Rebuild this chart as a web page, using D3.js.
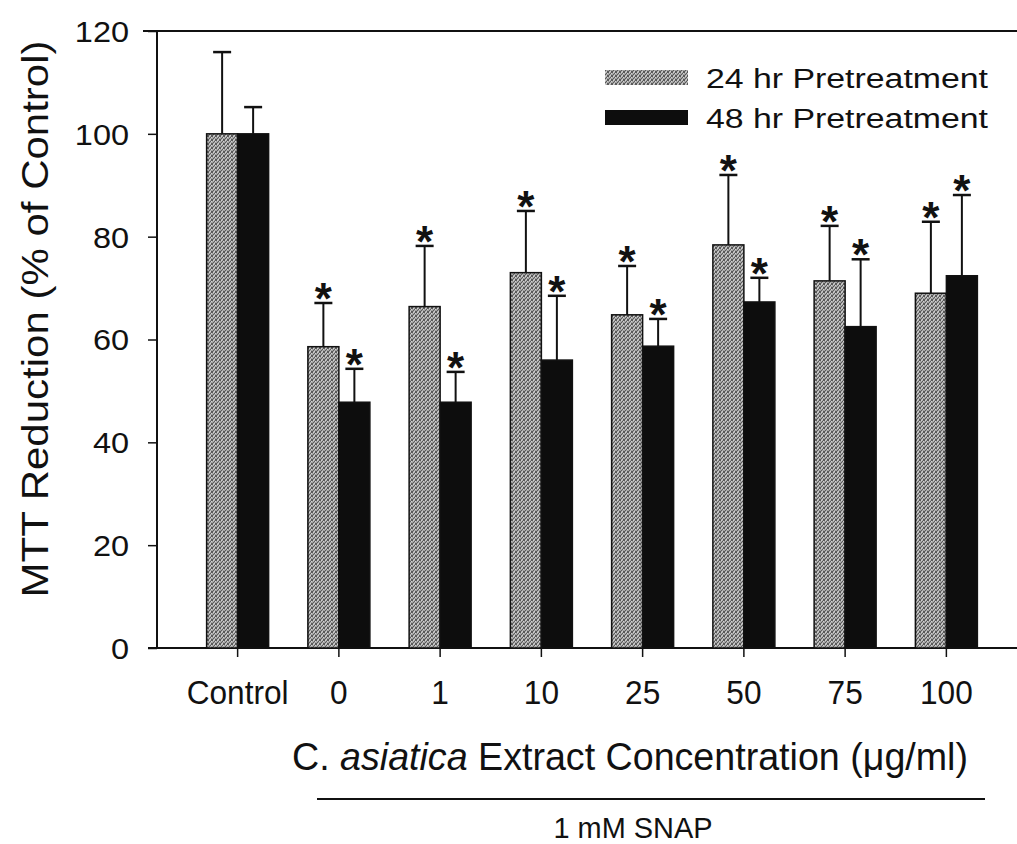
<!DOCTYPE html>
<html><head><meta charset="utf-8">
<script src="https://cdn.jsdelivr.net/npm/d3@7"></script>
<style>body{margin:0;background:#fff}svg{display:block}text{font-family:"Liberation Sans",Arial,sans-serif;fill:#111}</style>
</head><body><svg id="c" width="1017" height="844"></svg>
<script>
const categories = ["Control","0","1","10","25","50","75","100"];
const series = ["24 hr Pretreatment","48 hr Pretreatment"];
const values24 = [100, 58.6, 66.4, 73.0, 64.8, 78.4, 71.4, 69.0];
const values48 = [100, 47.8, 47.8, 56.0, 58.7, 67.3, 62.5, 72.4];
const err24 = [15.9, 8.5, 11.8, 12.0, 9.5, 13.6, 10.7, 13.9];
const err48 = [5.2, 6.5, 5.9, 12.5, 5.3, 4.7, 13.1, 15.7];
const sig24 = [false, true, true, true, true, true, true, true];
const sig48 = [false, true, true, true, true, true, true, true];
const yTicks = [0, 20, 40, 60, 80, 100, 120];

const svg = d3.select("#c");
const defs = svg.append("defs");
const pat = defs.append("pattern").attr("id","stip").attr("width",4).attr("height",4).attr("patternUnits","userSpaceOnUse");
pat.append("rect").attr("width",4).attr("height",4).attr("fill","#a6a6a6");
[[0,0],[2,1],[1,2],[3,3],[0,3],[3,0]].forEach(([a,b])=>pat.append("rect").attr("x",a).attr("y",b).attr("width",1).attr("height",1).attr("fill","#5a5a5a"));
[[1,0],[3,1],[2,3]].forEach(([a,b])=>pat.append("rect").attr("x",a).attr("y",b).attr("width",1).attr("height",1).attr("fill","#d0d0d0"));

const x0 = 157, y0 = 648;
const x = d3.scaleBand().domain(categories).range([187, 997]).paddingInner(0).paddingOuter(0);
const xs = d3.scaleBand().domain(series).range([0, 62]).padding(0);
const y = d3.scaleLinear().domain([0,120]).range([y0, 31]);

function fit(sel, w){ sel.attr("textLength", w).attr("lengthAdjust","spacingAndGlyphs"); }

// y axis
const ya = svg.append("g").attr("transform",`translate(${x0},0)`)
  .call(d3.axisLeft(y).tickValues(yTicks).tickSize(9).tickPadding(0).tickFormat(d3.format("d")));
ya.select(".domain").attr("stroke","#111").attr("stroke-width",2).attr("d",`M0,${y(120)}V${y0}`);
ya.selectAll(".tick line").attr("stroke","#111").attr("stroke-width",1.5);
ya.selectAll(".tick text").attr("x",-28).attr("dy","0.36em").attr("font-size",29).attr("fill","#111")
  .each(function(d){ const t=d3.select(this); fit(t, this.getComputedTextLength()*1.12); });
// top frame line
svg.append("line").attr("x1",143).attr("x2",1017).attr("y1",y(120)).attr("y2",y(120)).attr("stroke","#111").attr("stroke-width",2);

// x axis
const xa = svg.append("g").attr("transform",`translate(0,${y0})`)
  .call(d3.axisBottom(x).tickSize(9).tickPadding(0));
xa.select(".domain").attr("stroke","#111").attr("stroke-width",2).attr("d",`M148,0H1017`);
xa.selectAll(".tick line").attr("stroke","#111").attr("stroke-width",1.5);
xa.selectAll(".tick text").attr("y",56).attr("dy",0).attr("font-size",34).attr("fill","#111")
  .each(function(d){ const t=d3.select(this); fit(t, this.getComputedTextLength()*0.93); });

// bars
const g = svg.append("g");
categories.forEach((c,i)=>{
  const gx = x(c) + x.bandwidth()/2 - 31;
  const rows = [
    {s:series[0], v:values24[i], e:err24[i], sig:sig24[i], fill:"url(#stip)"},
    {s:series[1], v:values48[i], e:err48[i], sig:sig48[i], fill:"#0d0d0d"}];
  rows.forEach(r=>{
    const bx = gx + xs(r.s), bw = xs.bandwidth();
    const cx = bx + bw/2;
    g.append("line").attr("x1",cx).attr("x2",cx).attr("y1",y(r.v)).attr("y2",y(r.v+r.e)).attr("stroke","#111").attr("stroke-width",2);
    g.append("line").attr("x1",cx-9).attr("x2",cx+9).attr("y1",y(r.v+r.e)).attr("y2",y(r.v+r.e)).attr("stroke","#111").attr("stroke-width",2.5);
    g.append("rect").attr("x",bx).attr("y",y(r.v)).attr("width",bw).attr("height",y0-y(r.v))
      .attr("fill",r.fill).attr("stroke","#111").attr("stroke-width",1.5);
    if(r.sig){
      g.append("text").attr("x",cx).attr("y",y(r.v+r.e)-14+25).attr("text-anchor","middle")
        .attr("font-size",44).attr("font-weight","bold").text("*");
    }
  });
});

// legend
const lg = svg.append("g");
series.forEach((s,i)=>{
  lg.append("rect").attr("x",605).attr("y",70+i*40).attr("width",83).attr("height",15)
    .attr("fill", i===0 ? "url(#stip)" : "#0d0d0d");
  const t = lg.append("text").attr("x",706).attr("y",88+i*40).attr("font-size",27).text(s);
  fit(t, 282);
});

// y label
const yl = svg.append("text").attr("transform","translate(48,319) rotate(-90)").attr("text-anchor","middle")
  .attr("font-size",36).text("MTT Reduction (% of Control)");
fit(yl, 557);

// x title
const xt = svg.append("text").attr("x",292).attr("y",770).attr("font-size",38);
xt.append("tspan").text("C. ");
xt.append("tspan").attr("font-style","italic").text("asiatica");
xt.append("tspan").text(" Extract Concentration (\u03bcg/ml)");
fit(xt, 676);

svg.append("line").attr("x1",317).attr("x2",985).attr("y1",799).attr("y2",799).attr("stroke","#111").attr("stroke-width",2);
const sn = svg.append("text").attr("x",633).attr("y",838).attr("text-anchor","middle").attr("font-size",30).text("1 mM SNAP");
fit(sn, 159);
</script></body></html>
